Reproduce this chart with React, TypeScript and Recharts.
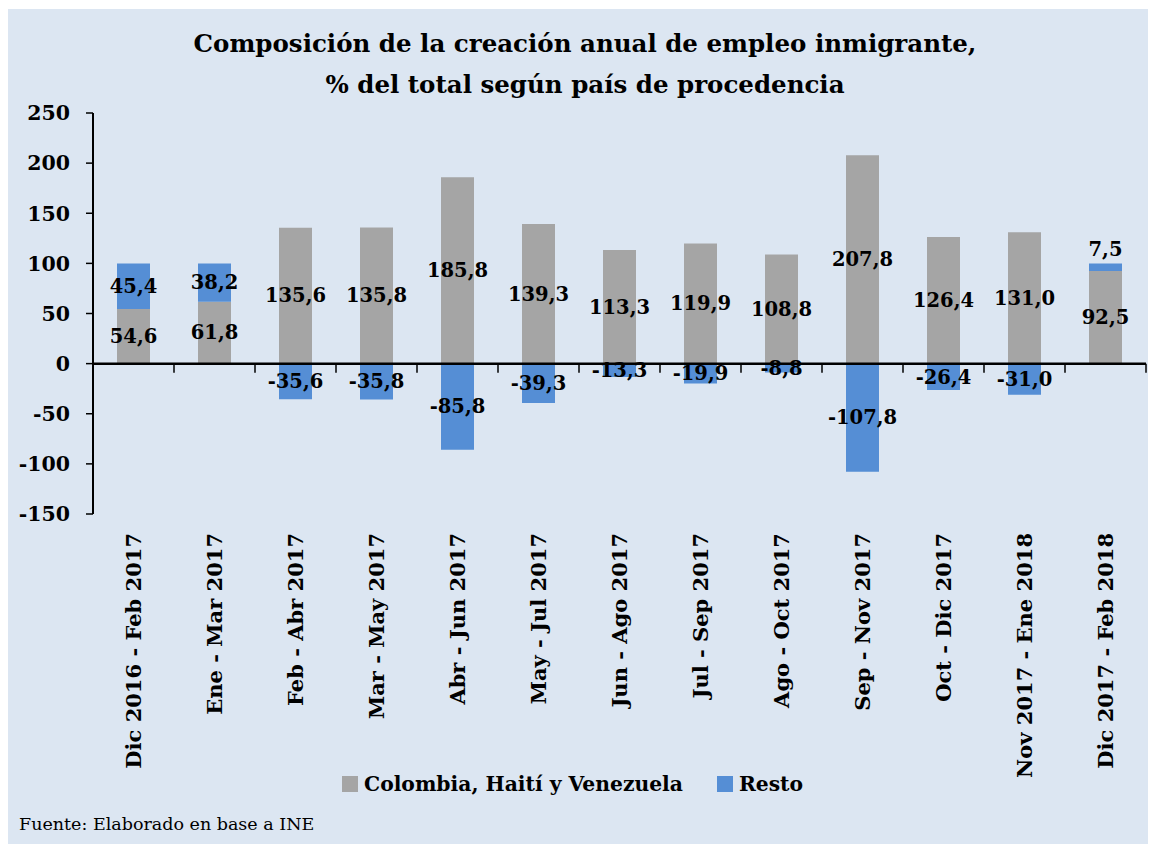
import { BarChart, Bar, XAxis, YAxis, ReferenceLine, LabelList } from "recharts";

const periods = [
  "Dic 2016 - Feb 2017",
  "Ene - Mar 2017",
  "Feb - Abr 2017",
  "Mar - May 2017",
  "Abr - Jun 2017",
  "May - Jul 2017",
  "Jun - Ago 2017",
  "Jul - Sep 2017",
  "Ago - Oct 2017",
  "Sep - Nov 2017",
  "Oct - Dic 2017",
  "Nov 2017 - Ene 2018",
  "Dic 2017 - Feb 2018",
];

const colombiaHaitiVenezuela = [54.6, 61.8, 135.6, 135.8, 185.8, 139.3, 113.3, 119.9, 108.8, 207.8, 126.4, 131.0, 92.5];
const resto = [45.4, 38.2, -35.6, -35.8, -85.8, -39.3, -13.3, -19.9, -8.8, -107.8, -26.4, -31.0, 7.5];

const yTicks = [-150, -100, -50, 0, 50, 100, 150, 200, 250];

const series = [
  { key: "cav", name: "Colombia, Haití y Venezuela", color: "#a5a5a5" },
  { key: "resto", name: "Resto", color: "#558ed5" },
];

const data = periods.map((period, i) => ({
  period,
  cav: colombiaHaitiVenezuela[i],
  resto: resto[i],
}));

const FONT = "'DejaVu Serif', serif";
const BG = "#dce6f2";

// chart geometry
const W = 1150;
const H = 835;
const TOP = 104;
const LEFT = 87;
const PLOT_W = 1053;
const PLOT_H = 401;
const BAND = PLOT_W / periods.length;
const ZERO_Y = TOP + (PLOT_H * 250) / 400;

const fmt = (v: number) => v.toFixed(1).replace(".", ",");

function PeriodTick(props: any) {
  const { x, payload } = props;
  const labelY = TOP + PLOT_H + 19;
  return (
    <g>
      <line x1={x + BAND / 2} x2={x + BAND / 2} y1={ZERO_Y} y2={ZERO_Y + 9} stroke="#000" strokeWidth={1.5} />
      <text
        x={x}
        y={labelY}
        transform={`rotate(-90, ${x}, ${labelY})`}
        textAnchor="end"
        dy="0.35em"
        fontFamily={FONT}
        fontWeight="bold"
        fontSize={21}
        fill="#000"
      >
        {payload.value}
      </text>
    </g>
  );
}

function ValueLabel(props: any) {
  const { x, y, width, height, value } = props;
  let cy = y + height / 2;
  if (value > 0 && value < 10) cy = y - 14;
  return (
    <text
      x={x + width / 2}
      y={cy}
      dy="0.35em"
      textAnchor="middle"
      fontFamily={FONT}
      fontWeight="bold"
      fontSize={19.5}
      fill="#000"
    >
      {fmt(value)}
    </text>
  );
}

export default function App() {
  return (
    <div style={{ position: "relative", marginLeft: -2, marginTop: 1, width: W, height: H, background: BG, overflow: "hidden" }}>
      <div
        style={{
          position: "absolute",
          left: 0,
          top: 14,
          width: 1158,
          textAlign: "center",
          fontFamily: FONT,
          fontWeight: "bold",
          fontSize: 24.5,
          lineHeight: "41px",
          color: "#000",
        }}
      >
        Composición de la creación anual de empleo inmigrante,
        <br />% del total según país de procedencia
      </div>
      <BarChart
        width={W}
        height={H}
        data={data}
        stackOffset="sign"
        barSize={33}
        margin={{ top: TOP, right: W - LEFT - PLOT_W, left: 0, bottom: 30 }}
        style={{ position: "absolute", left: 0, top: 0 }}
      >
        <XAxis
          dataKey="period"
          height={H - TOP - PLOT_H - 30}
          axisLine={false}
          tickLine={false}
          interval={0}
          tick={<PeriodTick />}
        />
        <YAxis
          width={LEFT}
          domain={[-150, 250]}
          ticks={yTicks}
          interval={0}
          tickSize={7}
          tickMargin={16}
          axisLine={{ stroke: "#000", strokeWidth: 2 }}
          tickLine={{ stroke: "#000", strokeWidth: 1.5 }}
          tick={{ fill: "#000", fontFamily: FONT, fontWeight: "bold", fontSize: 20.5 }}
        />
        {series.map((s) => (
          <Bar key={s.key} dataKey={s.key} name={s.name} stackId="a" fill={s.color} isAnimationActive={false}>
            <LabelList dataKey={s.key} content={<ValueLabel />} />
          </Bar>
        ))}
        <ReferenceLine y={0} stroke="#000" strokeWidth={2.5} />
      </BarChart>
      <div
        style={{
          position: "absolute",
          left: 336,
          top: 763,
          display: "flex",
          alignItems: "center",
          fontFamily: FONT,
          fontWeight: "bold",
          fontSize: 20.3,
        }}
      >
        {series.map((s, i) => (
          <div key={s.key} style={{ display: "flex", alignItems: "center", marginRight: i === 0 ? 34 : 0 }}>
            <span style={{ width: 16, height: 16, background: s.color, display: "inline-block", marginRight: 6 }} />
            <span>{s.name}</span>
          </div>
        ))}
      </div>
      <div
        style={{
          position: "absolute",
          left: 13,
          top: 805,
          fontFamily: FONT,
          fontSize: 17.5,
          color: "#000",
        }}
      >
        Fuente: Elaborado en base a INE
      </div>
    </div>
  );
}
